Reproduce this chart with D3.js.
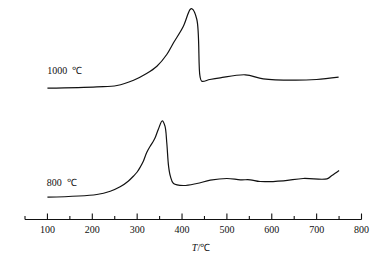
<!DOCTYPE html>
<html>
<head>
<meta charset="utf-8">
<script src="https://cdn.jsdelivr.net/npm/d3@7"></script>
<style>
  html, body { margin: 0; padding: 0; background: #fff; }
  svg { display: block; }
  text { font-family: "Liberation Serif", "Times New Roman", serif; fill: #111; }
</style>
</head>
<body>
<svg id="chart" width="383" height="261"></svg>
<script>
// Temperature (°C) and signal (arbitrary units)
const temp1000 = [100, 210, 255, 292, 321, 344, 366, 381, 403, 418, 422, 433, 440, 444, 462, 485, 541, 581, 648, 700, 749];
const sig1000  = [131.3, 132.7, 134, 139.3, 146, 153.3, 165, 176.7, 193.3, 210, 210.7, 200, 143.3, 138.3, 140, 141.7, 144.7, 140.7, 139.3, 140, 142.3];

const temp800 = [100, 210, 240, 262, 280, 292, 300, 307, 314, 321, 329, 336, 340, 347, 356, 362, 366, 370, 374, 381, 403, 433, 463, 500, 530, 552, 574, 626, 670, 723, 734, 750];
const sig800  = [22.3, 25, 28.3, 32.7, 38.3, 43.5, 47.5, 52.5, 58.5, 66.7, 73.3, 78.3, 81.7, 90, 98.7, 93.3, 76.7, 53.3, 43.3, 36, 34, 36, 39.3, 41, 39.7, 39.7, 38, 38.7, 41, 40.7, 44, 49];

const seriesLabels = ["1000 \u2103", "800 \u2103"];
const majorTicks = [100, 200, 300, 400, 500, 600, 700, 800];
const minorTicks = [50, 150, 250, 350, 450, 550, 650, 750];
const xTitleItalic = "T";
const xTitleRest = "/\u2103";

const svg = d3.select("#chart");
const x = d3.scaleLinear().domain([50, 800]).range([25, 361.5]);
const y = d3.scaleLinear().domain([0, 219.5]).range([219.5, 0]);

// axis
const axisG = svg.append("g").attr("transform", "translate(0,219.5)");
axisG.append("line")
  .attr("x1", x(50)).attr("x2", x(800))
  .attr("stroke", "#111").attr("stroke-width", 1.1);
axisG.selectAll("line.major").data(majorTicks).enter().append("line")
  .attr("class", "major")
  .attr("x1", d => x(d)).attr("x2", d => x(d))
  .attr("y1", 0).attr("y2", -6)
  .attr("stroke", "#111").attr("stroke-width", 1.1);
axisG.selectAll("line.minor").data(minorTicks).enter().append("line")
  .attr("class", "minor")
  .attr("x1", d => x(d)).attr("x2", d => x(d))
  .attr("y1", 0).attr("y2", -3.5)
  .attr("stroke", "#111").attr("stroke-width", 1.1);
axisG.selectAll("text.tl").data(majorTicks).enter().append("text")
  .attr("class", "tl")
  .attr("x", d => x(d)).attr("y", 13.5)
  .attr("text-anchor", "middle")
  .attr("font-size", 10)
  .text(d => d);

const title = svg.append("text")
  .attr("x", 201).attr("y", 251)
  .attr("text-anchor", "middle")
  .attr("font-size", 10);
title.append("tspan").attr("font-style", "italic").text(xTitleItalic);
title.append("tspan").text(xTitleRest);

// curves
const line = d3.line()
  .x(d => x(d[0])).y(d => y(d[1]))
  .curve(d3.curveCatmullRom.alpha(0.5));

svg.append("path")
  .datum(d3.zip(temp1000, sig1000))
  .attr("d", line)
  .attr("fill", "none").attr("stroke", "#111").attr("stroke-width", 1.2);

svg.append("path")
  .datum(d3.zip(temp800, sig800))
  .attr("d", line)
  .attr("fill", "none").attr("stroke", "#111").attr("stroke-width", 1.2);

// series labels
svg.append("text").attr("x", 47.3).attr("y", 74).attr("font-size", 10)
  .style("white-space", "pre").text(seriesLabels[0].replace(" ", "  "));
svg.append("text").attr("x", 46.7).attr("y", 185.5).attr("font-size", 10)
  .style("white-space", "pre").text(seriesLabels[1].replace(" ", "  "));
</script>
</body>
</html>
